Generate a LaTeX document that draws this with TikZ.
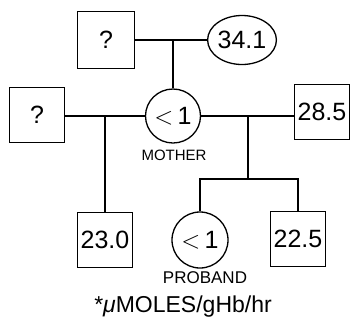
\documentclass[tikz,border=0pt]{standalone}
\usepackage{fontspec}
\setmainfont{Liberation Sans}
\usetikzlibrary{shapes.geometric}
\begin{document}
\begin{tikzpicture}[x=1pt,y=-1pt,line width=1.3pt,
  sq/.style={draw,minimum width=#1,minimum height=#1,inner sep=0pt,font=\fontsize{25}{25}\selectfont},
  sq/.default=55pt,
  fem/.style={draw,ellipse,inner sep=0pt,font=\fontsize{25}{25}\selectfont},
  lbl/.style={font=\fontsize{15}{15}\selectfont,inner sep=0pt}]
\useasboundingbox (0,0) rectangle (352,322);
\node[sq={57pt}] (gf) at (106,40) {?};
\node[fem,minimum width=59pt,minimum height=49pt] (gm) at (242,40) {34.1};
\node[fem,minimum width=55pt,minimum height=54pt] (mo) at (173,116) {$<$\,1};
\node[sq] (un) at (37,115) {?};
\node[sq] (b285) at (322,112) {28.5};
\node[sq] (b230) at (105,240) {23.0};
\node[fem,minimum width=56pt,minimum height=56pt] (pr) at (200,240) {$<$\,1};
\node[sq] (b225) at (298,239) {22.5};
\node[lbl] (ml) at (174,155) {MOTHER};
\node[lbl,font=\fontsize{17}{17}\selectfont] (pl) at (205,278) {PROBAND};
\node[inner sep=0pt,font=\fontsize{23}{23}\selectfont] (cap) at (183,307) {*\textit{μ}MOLES/gHb/hr};
\coordinate (j1) at (173,40);
\coordinate (j2) at (105,116);
\coordinate (j3) at (248,116);
\coordinate (j4) at (248,179);
\draw (gf.east) -- (gm.west);
\draw (j1) -- (mo.north);
\draw (un.east |- mo.west) -- (mo.west);
\draw (j2) -- (b230.north);
\draw (mo.east) -- (mo.east -| b285.west);
\draw (j3) -- (j4);
\draw (pr.north) |- (j4) -| (b225.north);
\end{tikzpicture}
\end{document}
